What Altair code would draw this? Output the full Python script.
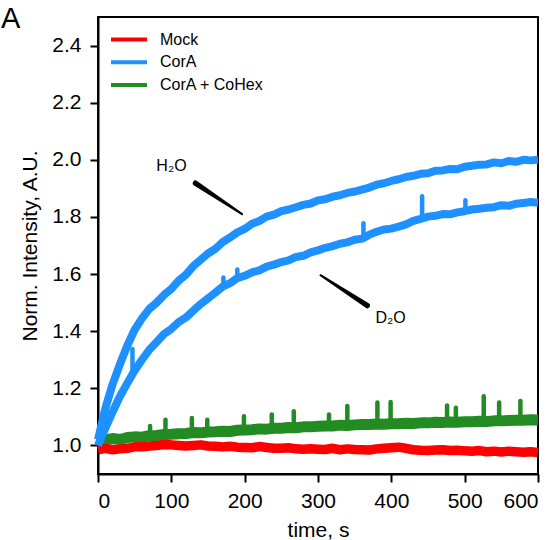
import altair as alt
import pandas as pd

FONT = "Liberation Sans"

# sampled time points, s
TIME = [0, 10, 20, 30, 40, 50, 60, 70, 80, 90, 100, 110, 120, 130, 140, 150,
        160, 170, 180, 190, 200, 210, 220, 230, 240, 250, 260, 270, 280, 290,
        300, 310, 320, 330, 340, 350, 360, 370, 380, 390, 400, 410, 420, 430,
        440, 450, 460, 470, 480, 490, 500, 510, 520, 530, 540, 550, 560, 570,
        580, 590, 600]

MOCK = [0.985, 0.990, 0.985, 0.988, 0.990, 0.995, 0.995, 0.998, 1.000, 1.003,
        1.002, 1.000, 0.998, 1.000, 1.002, 0.998, 0.997, 0.995, 0.997, 0.994,
        0.993, 0.992, 0.996, 0.993, 0.990, 0.990, 0.992, 0.988, 0.987, 0.988,
        0.987, 0.986, 0.990, 0.985, 0.988, 0.986, 0.985, 0.984, 0.988, 0.990,
        0.992, 0.994, 0.990, 0.985, 0.983, 0.982, 0.984, 0.985, 0.982, 0.983,
        0.981, 0.980, 0.982, 0.978, 0.980, 0.977, 0.980, 0.978, 0.976, 0.978,
        0.975]

CORA_H2O = [1.020, 1.130, 1.215, 1.285, 1.350, 1.405, 1.445, 1.478, 1.500, 1.527,
            1.548, 1.577, 1.598, 1.628, 1.650, 1.672, 1.688, 1.712, 1.728, 1.746,
            1.758, 1.776, 1.786, 1.801, 1.808, 1.820, 1.826, 1.834, 1.842, 1.847,
            1.858, 1.862, 1.871, 1.876, 1.884, 1.889, 1.896, 1.903, 1.913, 1.918,
            1.926, 1.932, 1.940, 1.944, 1.951, 1.953, 1.962, 1.963, 1.968, 1.967,
            1.976, 1.979, 1.983, 1.984, 1.991, 1.988, 1.996, 1.993, 2.000, 1.998,
            2.000]

CORA_D2O = [1.000, 1.060, 1.118, 1.172, 1.218, 1.262, 1.300, 1.335, 1.362, 1.390,
            1.408, 1.432, 1.448, 1.472, 1.495, 1.515, 1.535, 1.556, 1.568, 1.586,
            1.594, 1.606, 1.613, 1.626, 1.633, 1.642, 1.648, 1.660, 1.664, 1.676,
            1.683, 1.692, 1.698, 1.706, 1.711, 1.720, 1.724, 1.738, 1.748, 1.756,
            1.759, 1.766, 1.774, 1.786, 1.793, 1.801, 1.804, 1.810, 1.809, 1.816,
            1.820, 1.826, 1.829, 1.832, 1.834, 1.841, 1.839, 1.846, 1.849, 1.852,
            1.850]

COHEX = [1.008, 1.020, 1.024, 1.021, 1.028, 1.030, 1.029, 1.034, 1.035, 1.038,
         1.039, 1.041, 1.042, 1.045, 1.044, 1.047, 1.048, 1.050, 1.049, 1.053,
         1.054, 1.055, 1.058, 1.057, 1.060, 1.060, 1.063, 1.062, 1.065, 1.065,
         1.067, 1.068, 1.068, 1.071, 1.070, 1.072, 1.073, 1.073, 1.075, 1.074,
         1.076, 1.076, 1.078, 1.077, 1.079, 1.079, 1.081, 1.080, 1.082, 1.081,
         1.083, 1.083, 1.085, 1.084, 1.086, 1.086, 1.087, 1.088, 1.088, 1.090,
         1.089]

# short spikes on the traces
COHEX_SPIKE_T = [71, 92, 128, 149, 199, 237, 267, 315, 340, 381, 399, 476, 488, 526, 547, 576]
COHEX_SPIKE_BASE = [1.034, 1.038, 1.045, 1.046, 1.054, 1.060, 1.062, 1.068, 1.070, 1.075,
                    1.076, 1.081, 1.082, 1.084, 1.086, 1.088]
COHEX_SPIKE_TOP = [1.068, 1.090, 1.096, 1.090, 1.102, 1.108, 1.120, 1.108, 1.138, 1.150,
                   1.152, 1.140, 1.132, 1.172, 1.150, 1.156]

D2O_SPIKE_T = [47, 171, 190, 362, 442, 501]
D2O_SPIKE_BASE = [1.250, 1.556, 1.586, 1.726, 1.795, 1.820]
D2O_SPIKE_TOP = [1.338, 1.588, 1.616, 1.778, 1.872, 1.858]

# annotation pointers (tapered) and labels
ANN_NAME = ["H2O", "H2O", "D2O", "D2O"]
ANN_T = [133, 196.5, 303.4, 367.1]
ANN_V = [1.918, 1.810, 1.596, 1.490]
ANN_W = [5.5, 2.0, 2.0, 5.5]

LABEL_TEXT = ["H\u2082O", "D\u2082O"]
LABEL_T = [79.6, 378.5]
LABEL_V = [1.979, 1.445]

LEGEND_NAMES = ["Mock", "CorA", "CorA + CoHex"]
LEGEND_COLORS = ["#ff0000", "#1e90ff", "#228b22"]

rows = []
for t, v in zip(TIME, MOCK):
    rows.append({"time": t, "value": v, "label": "Mock", "curve": "mock"})
for t, v in zip(TIME, CORA_H2O):
    rows.append({"time": t, "value": v, "label": "CorA", "curve": "h2o"})
for t, v in zip(TIME, CORA_D2O):
    rows.append({"time": t, "value": v, "label": "CorA", "curve": "d2o"})
for t, v in zip(TIME, COHEX):
    rows.append({"time": t, "value": v, "label": "CorA + CoHex", "curve": "cohex"})
df = pd.DataFrame(rows)

spikes = pd.DataFrame(
    [{"time": t, "base": b, "top": p, "label": "CorA + CoHex"}
     for t, b, p in zip(COHEX_SPIKE_T, COHEX_SPIKE_BASE, COHEX_SPIKE_TOP)]
    + [{"time": t, "base": b, "top": p, "label": "CorA"}
       for t, b, p in zip(D2O_SPIKE_T, D2O_SPIKE_BASE, D2O_SPIKE_TOP)]
)

ann = pd.DataFrame({"name": ANN_NAME, "time": ANN_T, "value": ANN_V, "w": ANN_W})
labels = pd.DataFrame({"text": LABEL_TEXT, "time": LABEL_T, "value": LABEL_V})

xscale = alt.Scale(domain=[0, 600], nice=False, zero=False)
yscale = alt.Scale(domain=[0.9, 2.5], nice=False, zero=False)

xenc = alt.X("time:Q", scale=xscale,
             axis=alt.Axis(values=[0, 100, 200, 300, 400, 500, 600], title="time, s",
                           format="d", labelPadding=8, titlePadding=8))
yenc = alt.Y("value:Q", scale=yscale,
             axis=alt.Axis(values=[1.0, 1.2, 1.4, 1.6, 1.8, 2.0, 2.2, 2.4], format=".1f",
                           title="Norm. Intensity, A.U.", labelPadding=9, titlePadding=11))

color = alt.Color(
    "label:N",
    scale=alt.Scale(domain=LEGEND_NAMES, range=LEGEND_COLORS),
    legend=alt.Legend(
        title=None, orient="none", legendX=11, legendY=13.5,
        symbolType="stroke", symbolSize=1296, symbolStrokeWidth=4,
        labelFontSize=16, labelFont=FONT, labelColor="black",
        clipHeight=18, rowPadding=4.7, labelOffset=11,
    ),
)

base = alt.Chart(df)

green = base.transform_filter(alt.datum.label == "CorA + CoHex").mark_line(
    strokeWidth=11, strokeJoin="round").encode(x=xenc, y=yenc, color=color, detail="curve:N")
red = base.transform_filter(alt.datum.label == "Mock").mark_line(
    strokeWidth=9.5, strokeJoin="round").encode(x=xenc, y=yenc, color=color, detail="curve:N")
blue = base.transform_filter(alt.datum.label == "CorA").mark_line(
    strokeWidth=8, strokeJoin="round").encode(x=xenc, y=yenc, color=color, detail="curve:N")

spike_layer = alt.Chart(spikes).mark_rule(strokeWidth=4.5, strokeCap="round").encode(
    x=alt.X("time:Q", scale=xscale), y=alt.Y("base:Q", scale=yscale), y2="top:Q",
    color=alt.Color("label:N", scale=alt.Scale(domain=LEGEND_NAMES, range=LEGEND_COLORS),
                    legend=None))

pointers = alt.Chart(ann).mark_trail(color="black").encode(
    x=alt.X("time:Q", scale=xscale), y=alt.Y("value:Q", scale=yscale),
    size=alt.Size("w:Q", scale=None, legend=None), detail="name:N", order="time:Q")

texts = alt.Chart(labels).mark_text(
    align="left", baseline="middle", fontSize=16, font=FONT, color="black").encode(
    x=alt.X("time:Q", scale=xscale), y=alt.Y("value:Q", scale=yscale), text="text:N")

panel = alt.Chart(pd.DataFrame({"t": ["A"]})).mark_text(
    align="left", baseline="alphabetic", fontSize=29, font=FONT, color="black").encode(
    x=alt.value(-97), y=alt.value(11), text="t:N")

chart = alt.layer(green, spike_layer, red, blue, pointers, texts, panel).properties(
    width=440, height=457,
    padding={"left": 98, "top": 17, "right": 19, "bottom": 66},
    autosize=alt.AutoSizeParams(type="none"),
).configure_view(stroke="black", strokeWidth=2).configure_axis(
    grid=False, domainColor="black", domainWidth=2, tickColor="black", tickWidth=2,
    tickSize=8, labelFont=FONT, labelFontSize=21, labelColor="black",
    titleFont=FONT, titleFontSize=21, titleColor="black", titleFontWeight="normal",
)

chart.save("out.html", embed_options={"renderer": "svg", "actions": False})
